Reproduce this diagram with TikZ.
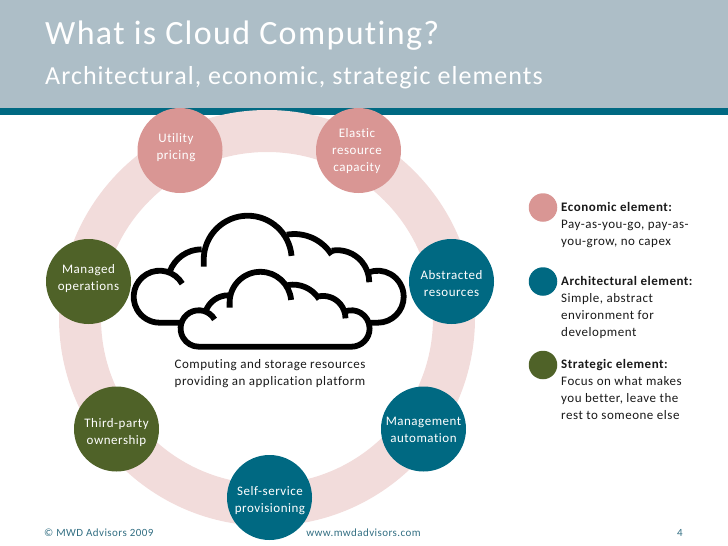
\documentclass[tikz,border=0pt]{standalone}
\usepackage{fontspec}
\setmainfont[LetterSpace=4, Ligatures=NoCommon]{Carlito}
\definecolor{cHead}{RGB}{173, 190, 199}
\definecolor{cTeal}{RGB}{0, 105, 130}
\definecolor{cPink}{RGB}{217, 150, 148}
\definecolor{cOlive}{RGB}{79, 98, 40}
\definecolor{cRing}{RGB}{242, 220, 219}
\definecolor{cFoot}{RGB}{50, 110, 130}
\tikzset{
  Elem/.style    = {circle, minimum size=85pt, inner sep=0pt},
  Econ/.style    = {Elem, fill=cPink},
  Arch/.style    = {Elem, fill=cTeal},
  Strat/.style   = {Elem, fill=cOlive},
  ElemTxt/.style = {align=center, inner sep=0pt, text=white, font=\fontsize{13}{17}\selectfont},
  Key/.style     = {circle, minimum size=28.5pt, inner sep=0pt},
  KeyTxt/.style  = {anchor=north west, align=left, inner sep=0pt, font=\fontsize{13}{17}\selectfont, text=black!90},
  Foot/.style    = {inner sep=0pt, font=\fontsize{11}{13}\selectfont, text=cFoot},
  Line/.style    = {line width=5.8pt, line cap=butt},
  puff/.pic      = {
    \fill[white] (23,0) arc[start angle=270, end angle=30, radius=26] -- (33,51)
      arc[start angle=160, end angle=90, radius=34] -- (67,63)
      arc[start angle=180, end angle=5, radius=44] -- (150,88)
      arc[start angle=100, end angle=32, radius=44] -- (195,72)
      arc[start angle=100, end angle=0, radius=32] -- (232,50)
      arc[start angle=110, end angle=-90, radius=26] -- cycle;
    \draw[Line] (45.5,39) arc[start angle=30, end angle=270, radius=26] -- (241,0)
      arc[start angle=-90, end angle=110, radius=26];
    \draw[Line] (33,51) arc[start angle=160, end angle=90, radius=34];
    \draw[Line] (67,56) -- (67,63) arc[start angle=180, end angle=5, radius=44];
    \draw[Line] (150,88) arc[start angle=100, end angle=32, radius=44];
    \draw[Line] (195,72) arc[start angle=100, end angle=0, radius=32];
  },
}

\begin{document}
\begin{tikzpicture}[x=1pt, y=-1pt]
\useasboundingbox (0,0) rectangle (728,546);

% ======================= header =========================================
\fill[cHead] (0,0) rectangle (728,108);
\fill[cTeal] (0,108) rectangle (728,115);
\node[anchor=west, inner sep=0pt, text=white, font=\fontsize{34}{38}\selectfont] (title) at (45,36) {What is Cloud Computing?};
\node[anchor=west, inner sep=0pt, text=white, font=\fontsize{26}{30}\selectfont] (subtitle) at (45,78) {Architectural, economic, strategic elements};

% ======================= ring and elements ==============================
\node[circle, draw=cRing, line width=42pt, minimum size=374pt, inner sep=0pt] (ring) at (267,318) {};
\foreach \nm/\x/\y/\dx/\dy/\sty/\lab in {
    utility/180/150.5/-4/-2.5/Econ/{Utility\\pricing},
    elastic/358.5/150.5/-1.5/0.5/Econ/{Elastic\\resource\\capacity},
    abstracted/451.5/281.5/0/2.5/Arch/{Abstracted\\resources},
    management/423.5/429/0/1/Arch/{Management\\automation},
    selfservice/269.5/497.5/0.5/3/Arch/{Self-service\\provisioning},
    thirdparty/116.5/429/0/3.5/Strat/{Third-party\\ownership},
    managed/88.5/281.5/0/-2.5/Strat/{Managed\\operations}} {
  \node[\sty] (\nm) at (\x,\y) {};
  \node[ElemTxt] (\nm txt) at ([shift={(\dx,\dy)}]\nm) {\lab};
}

% ======================= clouds =========================================
\coordinate (backcloud) at (136.7,322.7);
\coordinate (frontcloud) at (182.7,346.7);
\pic[y=1pt] at (backcloud) {puff};
\pic[scale=0.7, y=1pt] at (frontcloud) {puff};
\node[align=center, inner sep=0pt, font=\fontsize{13}{17}\selectfont, text=black!90] (caption) at (270,374)
  {Computing and storage resources\\providing an application platform};

% ======================= legend =========================================
\node[Key, fill=cPink]  (keyecon)  at (543,207.5) {};
\node[Key, fill=cTeal]  (keyarch)  at (543,281.5) {};
\node[Key, fill=cOlive] (keystrat) at (543,365) {};
\node[KeyTxt] (txtecon)  at (561,202) {\textbf{Economic element:}\\Pay-as-you-go, pay-as-\\you-grow, no capex};
\node[KeyTxt] (txtarch)  at (561,276) {\textbf{Architectural element:}\\Simple, abstract\\environment for\\development};
\node[KeyTxt] (txtstrat) at (561,359) {\textbf{Strategic element:}\\Focus on what makes\\you better, leave the\\rest to someone else};

% ======================= footer =========================================
\node[Foot, anchor=west] (copyr) at (44,533) {© MWD Advisors 2009};
\node[Foot] (web) at (363.5,533) {www.mwdadvisors.com};
\node[Foot] (page) at (680,533) {4};
\end{tikzpicture}
\end{document}
